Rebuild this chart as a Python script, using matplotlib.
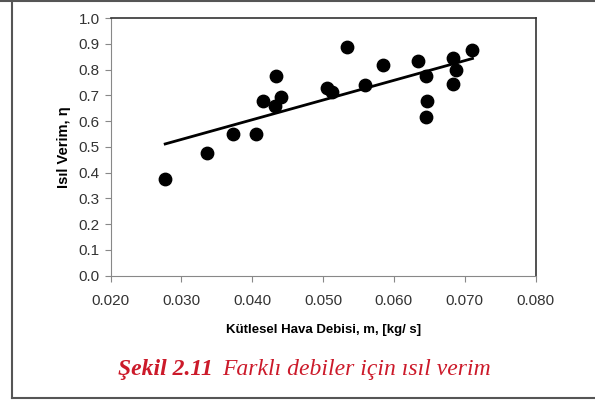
import numpy as np
import matplotlib.pyplot as plt
from matplotlib.lines import Line2D

# data
debi = [0.0277, 0.0336, 0.0373, 0.0405, 0.0415, 0.0434, 0.0432, 0.0440,
        0.0505, 0.0513, 0.0534, 0.0559, 0.0585, 0.0634, 0.0646, 0.0647,
        0.0646, 0.0683, 0.0688, 0.0683, 0.0711]
verim = [0.375, 0.475, 0.550, 0.550, 0.679, 0.774, 0.659, 0.693,
         0.728, 0.713, 0.887, 0.740, 0.816, 0.834, 0.774, 0.679,
         0.617, 0.846, 0.797, 0.745, 0.875]
xticks = [0.020, 0.030, 0.040, 0.050, 0.060, 0.070, 0.080]
yticks = [0.0, 0.1, 0.2, 0.3, 0.4, 0.5, 0.6, 0.7, 0.8, 0.9, 1.0]

plt.rcParams['font.family'] = ['Liberation Sans', 'DejaVu Sans']

fig = plt.figure(figsize=(5.95, 4), dpi=100)
ax = fig.add_axes([0.186, 0.311, 0.714, 0.644])

ax.scatter(debi, verim, s=80, color='black', zorder=3)

# linear trend line
k, b = np.polyfit(debi, verim, 1)
xl = np.array([min(debi), max(debi)])
ax.plot(xl, k * xl + b, color='black', lw=2)

ax.set_xlim(0.020, 0.080)
ax.set_ylim(0.0, 1.0)
ax.set_xticks(xticks)
ax.set_yticks(yticks)
ax.set_xticklabels(['%.3f' % v for v in xticks], fontsize=11, color='#333333')
ax.set_yticklabels(['%.1f' % v for v in yticks], fontsize=11, color='#333333')
ax.tick_params(direction='out', length=4, color='#888888')
ax.tick_params(axis='x', pad=9)
ax.tick_params(axis='y', pad=4)

for s in ['left', 'bottom']:
    ax.spines[s].set_color('#888888')
for s in ['top', 'right']:
    ax.spines[s].set_color('#333333')
    ax.spines[s].set_linewidth(1.2)

ax.set_xlabel('Kütlesel Hava Debisi, m, [kg/ s]', fontsize=9.5, fontweight='bold', labelpad=12)
ax.set_ylabel('Isıl Verim, η', fontsize=10.5, fontweight='bold', labelpad=5)

# caption
fig.text(118 / 595, 0.0625, 'Şekil 2.11', fontsize=17, fontweight='bold', style='italic',
         family='Liberation Serif', color='#cc1a2a', ha='left', va='baseline')
fig.text(222 / 595, 0.0625, 'Farklı debiler için ısıl verim', fontsize=17, style='italic',
         family='Liberation Serif', color='#cc1a2a', ha='left', va='baseline')

# outer frame
x0, y0, y1 = 12 / 595, 2 / 400, 399 / 400
fig.add_artist(Line2D([x0, x0], [y0, y1], color='#555555', lw=1.5))
fig.add_artist(Line2D([x0, 1], [y0, y0], color='#555555', lw=1.5))
fig.add_artist(Line2D([0, 1], [y1, y1], color='#555555', lw=1.5))

fig.savefig('out.png', dpi=100)
